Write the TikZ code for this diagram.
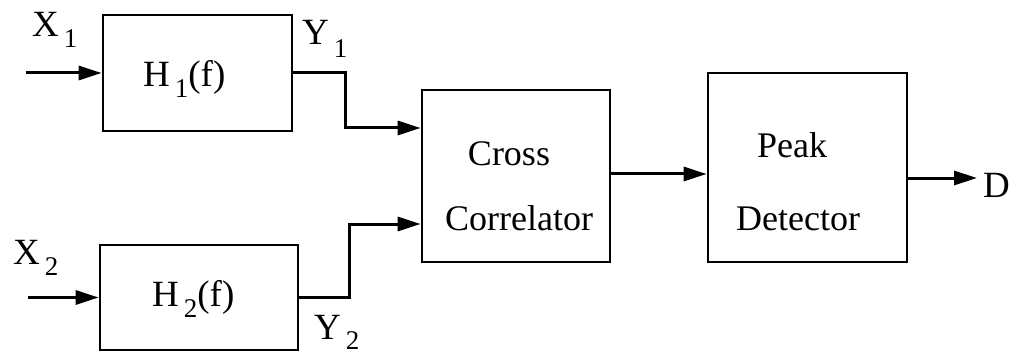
\documentclass[tikz,border=0pt]{standalone}
\usepackage{fontspec}
\setmainfont{Liberation Serif}
\usetikzlibrary{arrows.meta}
% letter followed by a spaced, lowered index
\newcommand{\sigsub}[3][11pt]{#2\hspace{5pt}\raisebox{-#1}{\fontsize{27}{27}\selectfont #3}}

\begin{document}
\begin{tikzpicture}[x=1pt,y=-1pt,
  blk/.style={draw, line width=2.7pt, inner sep=0pt},
  sig/.style={line width=3pt, -{Triangle[length=23pt,width=14pt]}},
  lbl/.style={font=\fontsize{37}{37}\selectfont, inner sep=0pt, anchor=base west},
  txt/.style={font=\fontsize{36}{36}\selectfont, inner sep=0pt, anchor=base},
  ]
\useasboundingbox (0,0) rectangle (1024,358);

% blocks
\node[blk, minimum width=189pt, minimum height=116pt] (h1) at (197.5,73) {};
\node[blk, minimum width=198pt, minimum height=105pt] (h2) at (199,297.5) {};
\node[blk, minimum width=188pt, minimum height=172pt] (cc) at (516,176) {};
\node[blk, minimum width=199pt, minimum height=189pt] (pd) at (807.5,167.5) {};

% block texts
\node[lbl] (h1t) at (143,87) {\sigsub{H}{1}(f)};
\node[lbl] (h2t) at (152,306) {\sigsub{H}{2}(f)};
\node[txt] (cc1) at (509,165) {Cross};
\node[txt] (cc2) at (519,230) {Correlator};
\node[txt] (pd1) at (792,158) {Peak};
\node[txt] (pd2) at (798,230) {Detector};

% signal labels
\node[lbl] (x1) at (32,37) {\sigsub{X}{1}};
\node[lbl] (x2) at (13,264) {\sigsub{X}{2}};
\node[lbl] (y1) at (302,45) {\sigsub[13pt]{Y}{1}};
\node[lbl] (y2) at (314,339) {\sigsub[10pt]{Y}{2}};
\node[lbl] (d) at (983,197) {D};

% inputs
\coordinate (x1in) at (26,73);
\coordinate (x2in) at (28,297.5);
\draw[sig] (x1in) -- (h1.west);
\draw[sig] (x2in) -- (h2.west);

% filter outputs into the correlator
\coordinate (b1) at (345,128);
\coordinate (b2) at (349,224);
\draw[sig] (h1.east) -| (b1) -- (b1 -| cc.west);
\draw[sig] (h2.east) -| (b2) -- (b2 -| cc.west);

% correlator to detector, detector output
\draw[sig] ([yshift=2pt]cc.east) -- ([yshift=2pt]cc.east -| pd.west);
\coordinate (dout) at (977,178);
\draw[sig] (pd.east |- dout) -- (dout);
\end{tikzpicture}
\end{document}
